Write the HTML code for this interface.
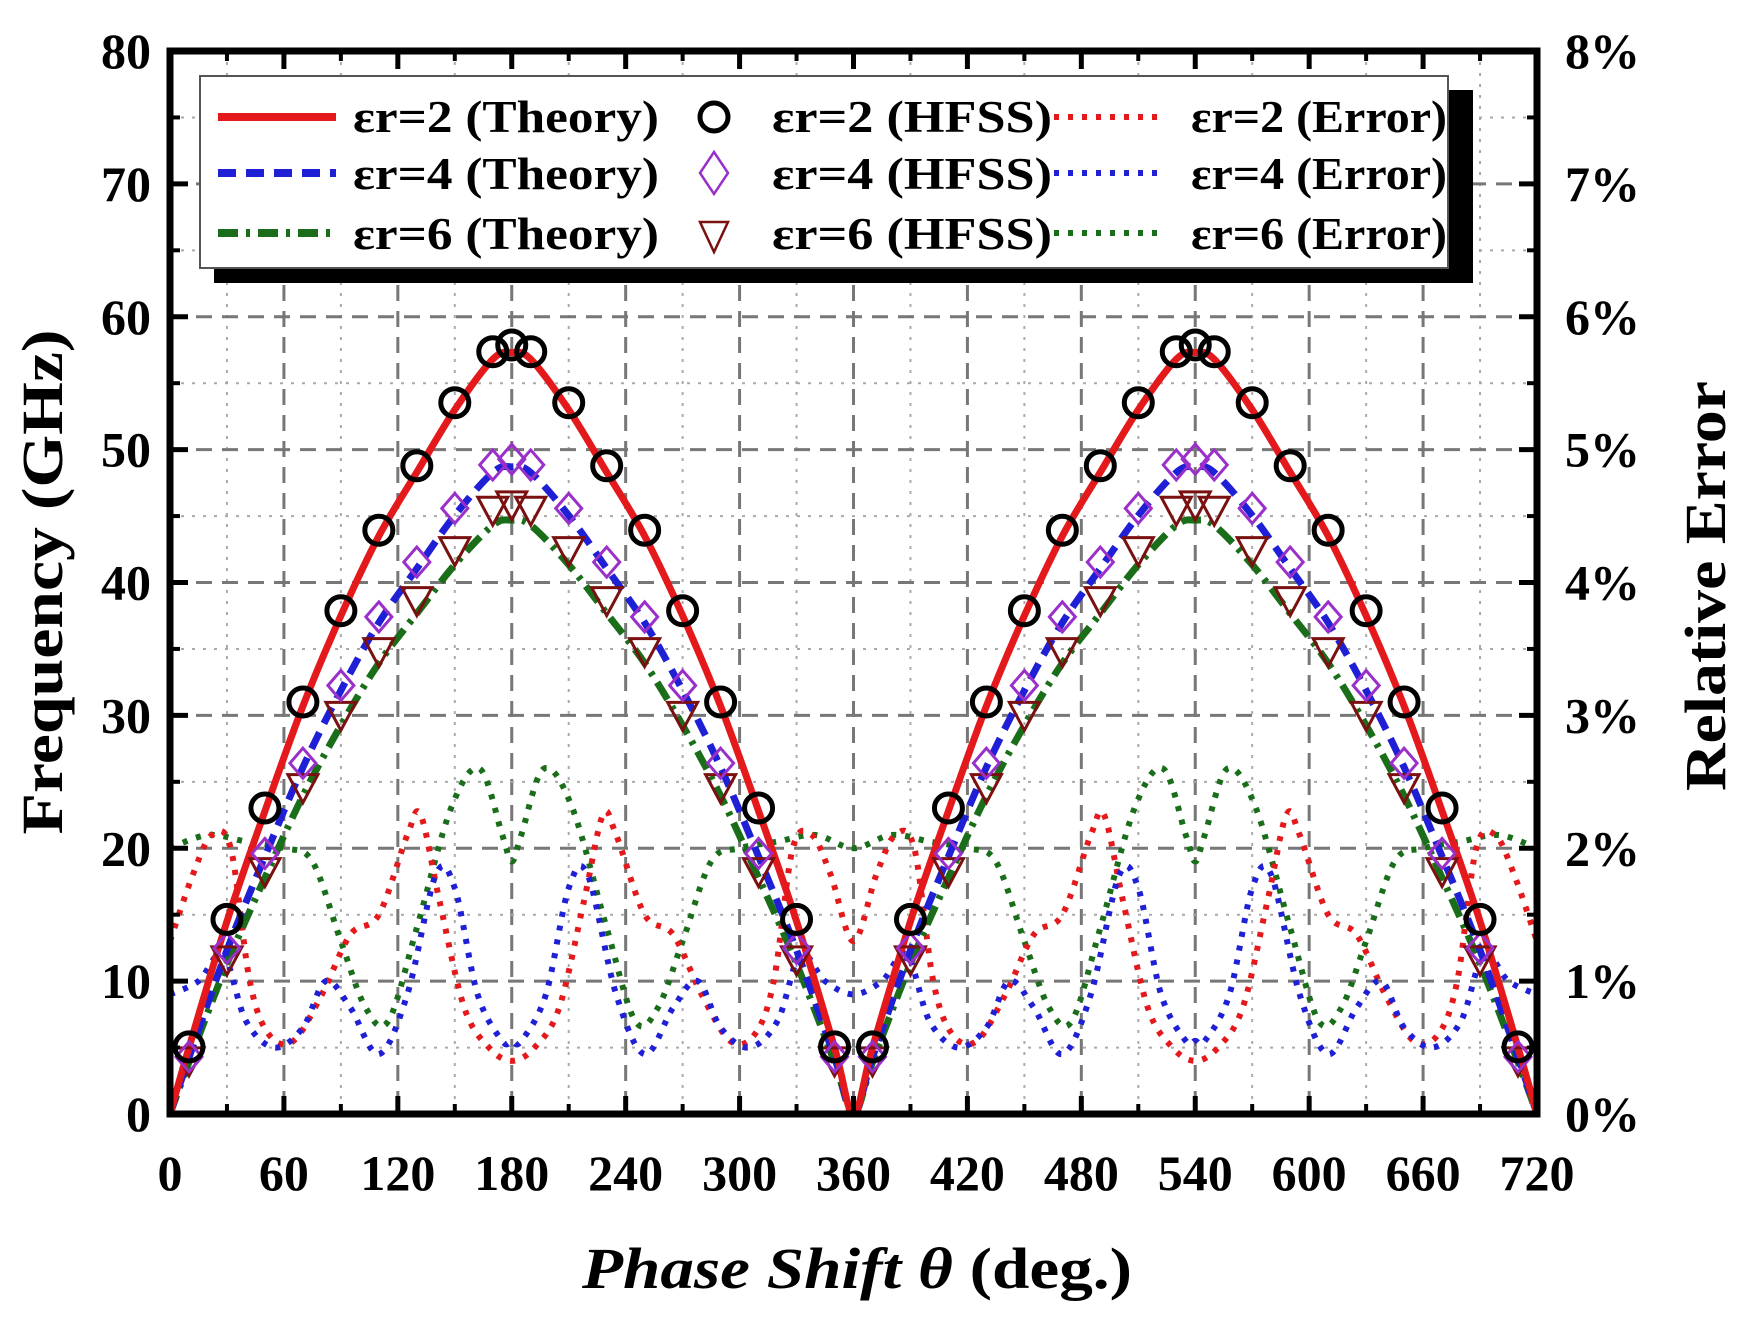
<!DOCTYPE html>
<html><head><meta charset="utf-8"><style>
html,body{margin:0;padding:0;background:#fff;}
svg{display:block;}
text{font-family:"Liberation Serif",serif;font-weight:bold;fill:#000;}
</style></head><body>
<svg id="s" width="1747" height="1333" viewBox="0 0 1747 1333" xmlns="http://www.w3.org/2000/svg">
<g id="grid"></g>
<g id="series"></g>
<g id="frame"></g>
<g id="legend">
 <rect x="214" y="90" width="1259" height="193" fill="#000"/>
 <rect x="200" y="76" width="1248" height="192" fill="#fff" stroke="#555" stroke-width="2"/>
 <line x1="218" y1="117" x2="336" y2="117" stroke="#e3191c" stroke-width="8"/>
 <line x1="218" y1="173" x2="336" y2="173" stroke="#1f1fd6" stroke-width="8" stroke-dasharray="18,10"/>
 <line x1="218" y1="233" x2="336" y2="233" stroke="#1a6e1a" stroke-width="8" stroke-dasharray="20,8,4,8"/>
 <circle cx="714" cy="117" r="14" fill="none" stroke="#000" stroke-width="5"/>
 <polygon points="714,152 728,173 714,194 700,173" fill="none" stroke="#9a2fc9" stroke-width="2.5"/>
 <polygon points="700,222 728,222 714,252" fill="none" stroke="#7a1010" stroke-width="2.5"/>
 <line x1="1054" y1="117" x2="1166" y2="117" stroke="#e3191c" stroke-width="6" stroke-dasharray="5,9"/>
 <line x1="1054" y1="173" x2="1166" y2="173" stroke="#1f1fd6" stroke-width="6" stroke-dasharray="5,9"/>
 <line x1="1054" y1="233" x2="1166" y2="233" stroke="#1a6e1a" stroke-width="6" stroke-dasharray="5,9"/>
 <g font-size="45">
 <text x="353" y="132" textLength="306" lengthAdjust="spacingAndGlyphs">εr=2 (Theory)</text>
 <text x="353" y="189" textLength="306" lengthAdjust="spacingAndGlyphs">εr=4 (Theory)</text>
 <text x="353" y="249" textLength="306" lengthAdjust="spacingAndGlyphs">εr=6 (Theory)</text>
 <text x="772" y="132" textLength="280" lengthAdjust="spacingAndGlyphs">εr=2 (HFSS)</text>
 <text x="772" y="189" textLength="280" lengthAdjust="spacingAndGlyphs">εr=4 (HFSS)</text>
 <text x="772" y="249" textLength="280" lengthAdjust="spacingAndGlyphs">εr=6 (HFSS)</text>
 <text x="1191" y="132" textLength="256" lengthAdjust="spacingAndGlyphs">εr=2 (Error)</text>
 <text x="1191" y="189" textLength="256" lengthAdjust="spacingAndGlyphs">εr=4 (Error)</text>
 <text x="1191" y="249" textLength="256" lengthAdjust="spacingAndGlyphs">εr=6 (Error)</text>
 </g>
</g>
<g id="labels" font-size="50"></g>
<text x="857" y="1288" font-size="58" text-anchor="middle" textLength="550" lengthAdjust="spacingAndGlyphs"><tspan font-style="italic">Phase Shift θ</tspan> (deg.)</text>
<text transform="translate(62,582) rotate(-90)" font-size="58" text-anchor="middle" textLength="505" lengthAdjust="spacingAndGlyphs">Frequency (GHz)</text>
<text transform="translate(1725,586) rotate(-90)" font-size="58" text-anchor="middle" textLength="410" lengthAdjust="spacingAndGlyphs">Relative Error</text>
</svg>
<script>
const NS="http://www.w3.org/2000/svg";
const L=170,R=1537,T=51,B=1114;
const X=d=>L+d/720*(R-L), Y=f=>B-f/80*(B-T);
function el(p,tag,a,txt){const e=document.createElementNS(NS,tag);for(const k in a)e.setAttribute(k,a[k]);if(txt!==undefined)e.textContent=txt;p.appendChild(e);return e;}
const grid=document.getElementById('grid'),ser=document.getElementById('series'),fr=document.getElementById('frame'),lab=document.getElementById('labels');
for(let d=30;d<720;d+=30){const maj=d%60==0;el(grid,'line',{x1:X(d),x2:X(d),y1:T,y2:B,stroke:maj?'#777':'#aaa','stroke-width':maj?3:2,'stroke-dasharray':maj?'16,10':'3,8'});}
for(let f=5;f<80;f+=5){const maj=f%10==0;el(grid,'line',{x1:L,x2:R,y1:Y(f),y2:Y(f),stroke:maj?'#777':'#aaa','stroke-width':maj?3:2,'stroke-dasharray':maj?'16,10':'3,8'});}
for(let d=0;d<=720;d+=30){const maj=d%60==0;const h=maj?18:10;el(fr,'line',{x1:X(d),x2:X(d),y1:B,y2:B-h,stroke:'#000','stroke-width':maj?5:4});el(fr,'line',{x1:X(d),x2:X(d),y1:T,y2:T+h,stroke:'#000','stroke-width':maj?5:4});}
for(let f=0;f<=80;f+=5){const maj=f%10==0;const h=maj?18:10;el(fr,'line',{x1:L,x2:L+h,y1:Y(f),y2:Y(f),stroke:'#000','stroke-width':maj?5:4});el(fr,'line',{x1:R,x2:R-h,y1:Y(f),y2:Y(f),stroke:'#000','stroke-width':maj?5:4});}
el(fr,'rect',{x:L,y:T,width:R-L,height:B-T,fill:'none',stroke:'#000','stroke-width':7});
for(let f=0;f<=80;f+=10){el(lab,'text',{x:151,y:Y(f)+17,'text-anchor':'end'},String(f));el(lab,'text',{x:1565,y:Y(f)+17},(f/10)+'%');}
for(let d=0;d<=720;d+=60){el(lab,'text',{x:X(d),y:1190,'text-anchor':'middle'},String(d));}
function sym(pts){const half=pts.slice();
 const full=half.concat(half.slice(0,-1).reverse().map(([d,v])=>[360-d,v]));
 return full.concat(full.slice(1).map(([d,v])=>[d+360,v]));}
function smooth(pts){let s=`M${X(pts[0][0])},${Y(pts[0][1])}`;for(let i=0;i<pts.length-1;i++){const p0=pts[Math.max(0,i-1)],p1=pts[i],p2=pts[i+1],p3=pts[Math.min(pts.length-1,i+2)];
 const c1=[p1[0]+(p2[0]-p0[0])/6,p1[1]+(p2[1]-p0[1])/6],c2=[p2[0]-(p3[0]-p1[0])/6,p2[1]-(p3[1]-p1[1])/6];
 s+=`C${X(c1[0])},${Y(c1[1])} ${X(c2[0])},${Y(c2[1])} ${X(p2[0])},${Y(p2[1])}`;}return s;}
const base=[[0,0],[10,5],[30,14.5],[50,22.8],[70,30.7],[90,37.5],[110,43.5],[130,48.3],[150,53],[170,56.8],[180,57.3]];
function theory(k){return sym(base.map(([d,v])=>[d,v*k]));}
const err2=sym([[0,13],[12,18],[22,21],[32,20],[42,10],[52,6],[65,5.5],[80,9],[95,13.5],[110,15],[125,21],[132,22.5],[142,16],[155,8],[168,5],[180,4]]);
const err4=sym([[0,9],[15,10],[28,12],[40,7],[55,5],[70,6.5],[82,10],[95,8],[110,4.5],[125,9],[140,18],[150,17],[162,9],[175,5.5],[180,5.5]]);
const err6=sym([[0,20],[20,21],[40,20.5],[60,20],[75,19],[90,13],[103,8],[115,7],[130,14],[148,23],[163,26],[175,21],[180,19]]);
const errs=[[err6,'#1a6e1a'],[err2,'#e3191c'],[err4,'#1f1fd6']];
for(const [p,c] of errs)el(ser,'path',{d:smooth(p),fill:'none',stroke:c,'stroke-width':6,'stroke-dasharray':'5,9','stroke-linecap':'butt'});
el(ser,'path',{d:smooth(theory(0.78)),fill:'none',stroke:'#1a6e1a','stroke-width':7,'stroke-dasharray':'20,8,4,8'});
el(ser,'path',{d:smooth(theory(0.85)),fill:'none',stroke:'#1f1fd6','stroke-width':7,'stroke-dasharray':'18,10'});
el(ser,'path',{d:smooth(theory(1.0)),fill:'none',stroke:'#e3191c','stroke-width':7});
const mk=[];for(let d=10;d<720;d+=20)mk.push(d);mk.push(180,540);mk.sort((a,b)=>a-b);
function val(d){let m=d%360;if(m>180)m=360-m;for(let i=0;i<base.length-1;i++){if(m>=base[i][0]&&m<=base[i+1][0]){const t=(m-base[i][0])/(base[i+1][0]-base[i][0]);return base[i][1]+t*(base[i+1][1]-base[i][1]);}}return 57.5;}
for(const d of mk){const x=X(d);
 const yt=Y(val(d)*0.8);el(ser,'polygon',{points:`${x-15},${yt-13} ${x+15},${yt-13} ${x},${yt+15}`,fill:'none',stroke:'#7a1010','stroke-width':3});
 const yd=Y(val(d)*0.86);el(ser,'polygon',{points:`${x},${yd-15} ${x+13},${yd} ${x},${yd+15} ${x-13},${yd}`,fill:'none',stroke:'#9a2fc9','stroke-width':3});
 const yc=Y(val(d)*1.01);el(ser,'circle',{cx:x,cy:yc,r:14,fill:'none',stroke:'#000','stroke-width':5});}
</script>
</body></html>
